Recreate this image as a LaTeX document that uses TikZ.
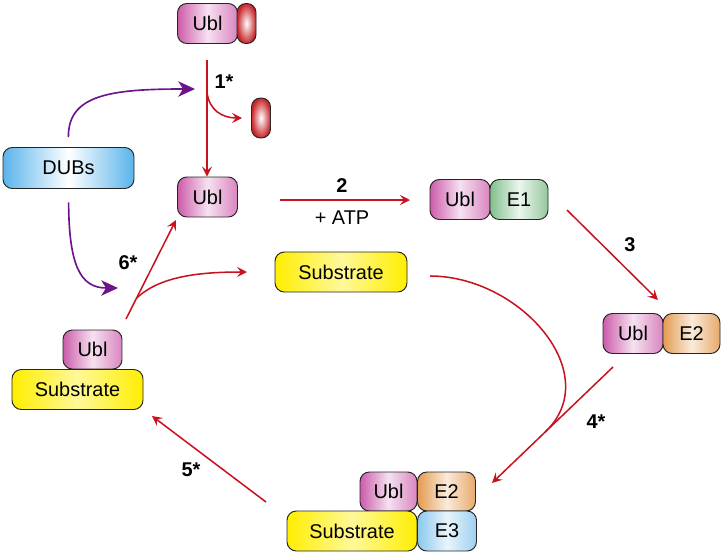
\documentclass[tikz,border=0pt]{standalone}
\usepackage{fontspec}
\setmainfont{Liberation Sans}
\usepackage{tikz}
\usetikzlibrary{arrows.meta,calc}

\definecolor{ublpink}{RGB}{204,92,170}
\definecolor{capred}{RGB}{200,40,45}
\definecolor{dubblue}{RGB}{90,180,235}
\definecolor{subyel}{RGB}{255,238,0}
\definecolor{eonegreen}{RGB}{130,190,140}
\definecolor{etwoorange}{RGB}{228,155,80}
\definecolor{ethreeblue}{RGB}{140,200,238}
\definecolor{arrred}{RGB}{200,18,30}
\definecolor{arrpurple}{RGB}{110,20,138}

\tikzset{
  blob/.style 2 args={draw=black!85, line width=0.8pt, rounded corners=0.28cm,
    inner sep=0pt, minimum width=#1*0.03cm, minimum height=#2*0.03cm,
    font=\fontsize{17}{20}\selectfont},
  ublbox/.style={left color=ublpink, right color=ublpink!75, middle color=ublpink!18},
  eonebox/.style={left color=eonegreen, right color=eonegreen!85, middle color=eonegreen!15},
  etwobox/.style={left color=etwoorange, right color=etwoorange!85, middle color=etwoorange!20},
  ethreebox/.style={left color=ethreeblue, right color=ethreeblue!85, middle color=ethreeblue!20},
  subbox/.style={left color=subyel, right color=subyel, middle color=subyel!40},
  dubbox/.style={left color=dubblue, right color=dubblue, middle color=white},
  capbox/.style={draw=black!85, line width=0.8pt, rounded corners=0.27cm,
    minimum width=19*0.03cm, minimum height=40*0.03cm, inner sep=0pt,
    inner color=white, outer color=capred},
  redarr/.style={draw=arrred, line width=1.3pt, -{Stealth[length=3mm,width=3mm,inset=1.2mm]}},
  purparr/.style={draw=arrpurple, line width=1.4pt, -{Stealth[length=5mm,width=4.6mm,inset=1.4mm]}},
  lbl/.style={font=\bfseries\fontsize{17}{20}\selectfont},
  txt/.style={font=\fontsize{17}{20}\selectfont}
}

\begin{document}
\begin{tikzpicture}[x=0.03cm,y=-0.03cm]
  \useasboundingbox (0,0) rectangle (725,555);

  % free Ubl and precursor
  \node [blob={60}{40}, ublbox] (ubltop) at (207.5,23.5) {Ubl};
  \node [capbox] (captop) at (246.5,23.5) {};
  \node [capbox] (capfree) at (261,118) {};
  \node [blob={60}{40}, ublbox] (ublfree) at (207.5,197) {Ubl};

  \node [blob={131}{41}, dubbox] (dubs) at (68.5,168) {DUBs};

  % E1, E2
  \node [blob={60}{40}, ublbox] (ublone) at (460,199.5) {Ubl};
  \node [blob={58}{40}, eonebox] (eone) at (519,199.5) {E1};
  \node [blob={60}{40}, ublbox] (ubltwo) at (633,333.5) {Ubl};
  \node [blob={57}{40}, etwobox] (etwo) at (691.5,333.5) {E2};

  \node [blob={132}{40}, subbox] (subfree) at (341,272) {Substrate};

  % E2/E3 complex
  \node [blob={57}{39}, ublbox] (ublthree) at (388.5,491.5) {Ubl};
  \node [blob={58}{39}, etwobox] (etwothree) at (446.5,491.5) {E2};
  \node [blob={130}{40}, subbox] (subthree) at (352,531) {Substrate};
  \node [blob={59}{40}, ethreebox] (ethree) at (447,531) {E3};

  % conjugated substrate
  \node [blob={59}{39}, ublbox] (ublconj) at (92.5,349.5) {Ubl};
  \node [blob={131}{40}, subbox] (subconj) at (77.5,389.5) {Substrate};

  % end points
  \coordinate (sone) at (207,60);
  \coordinate (bone) at (207,92);
  \coordinate (pup) at (195,89);
  \coordinate (pdown) at (118,288);
  \coordinate (stwo) at (280,200);
  \coordinate (etw) at (410,200);
  \coordinate (sthree) at (567,210);
  \coordinate (ethr) at (658,300);
  \coordinate (sfour) at (613,367);
  \coordinate (efour) at (492,483);
  \coordinate (mfour) at ($(sfour)!0.56!(efour)$);
  \coordinate (scurve) at (430,276);
  \coordinate (sfive) at (266,502);
  \coordinate (efive) at (152,416);
  \coordinate (ssix) at (126,319);
  \coordinate (esix) at (176,220);
  \coordinate (bsix) at ($(ssix)!0.21!(esix)$);
  \coordinate (cap) at (242,118);
  \coordinate (subin) at (247,272);

  % arrows
  \draw [redarr] (sone) -- (sone |- ublfree.north);
  \draw [redarr] (bone) .. controls (209,110) and (222,118) .. (cap);
  \node [lbl] (lone) at (224,82) {1*};

  \draw [purparr, shorten <=0.3cm] (dubs.north) .. controls (68,95) and (110,89) .. (pup);
  \draw [purparr, shorten <=0.4cm] (dubs.south) .. controls (69,265) and (80,288) .. (pdown);

  \draw [redarr] (stwo) -- (etw);
  \node [lbl] (ltwo) at (342,186) {2};
  \node [txt] (latp) at (342,218) {+ ATP};

  \draw [redarr] (sthree) -- (ethr);
  \node [lbl] (lthree) at (630,245) {3};

  \draw [redarr] (sfour) -- (efour);
  \draw [draw=arrred, line width=1.3pt] (scurve) .. controls (520,276) and (606,374) .. (mfour);
  \node [lbl] (lfour) at (596,422) {4*};

  \draw [redarr] (sfive) -- (efive);
  \node [lbl] (lfive) at (191,470) {5*};

  \draw [redarr] (ssix) -- (esix);
  \draw [redarr] (bsix) .. controls (160,276) and (200,272) .. (subin);
  \node [lbl] (lsix) at (128,263) {6*};
\end{tikzpicture}
\end{document}
